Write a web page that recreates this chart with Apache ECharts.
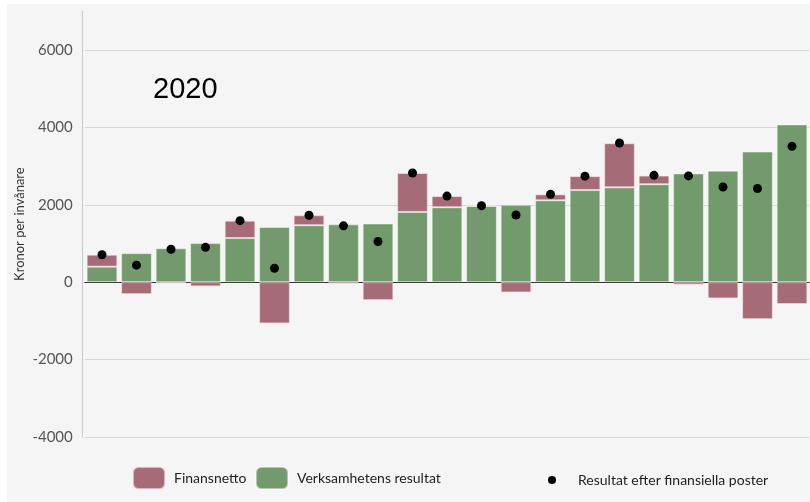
<!DOCTYPE html>
<html>
<head>
<meta charset="utf-8">
<script src="https://cdn.jsdelivr.net/npm/echarts@6/dist/echarts.min.js"></script>
<style>
  html, body { margin: 0; padding: 0; background: #fff; }
  #wrap { position: relative; width: 810px; height: 502px; }
  #chart { position: absolute; left: 7px; top: 4px; width: 803px; height: 498px; background: #f5f5f5; }
</style>
</head>
<body>
<div id="wrap"><div id="chart"></div></div>
<script>
// kommuner, 21 st
var categories = ['1', '2', '3', '4', '5', '6', '7', '8', '9', '10', '11',
  '12', '13', '14', '15', '16', '17', '18', '19', '20', '21'];
var verksamhet = [400, 750, 875, 1010, 1140, 1425, 1470, 1495, 1515, 1815, 1935,
  1970, 2000, 2115, 2380, 2450, 2530, 2810, 2880, 3375, 4075];
var finansnetto = [310, -310, -25, -110, 450, -1065, 260, -40, -465, 1005, 290,
  5, -265, 155, 360, 1140, 225, -65, -420, -955, -565];
var resultat = [710, 440, 850, 900, 1590, 360, 1730, 1455, 1050, 2820, 2225,
  1975, 1735, 2270, 2740, 3595, 2760, 2745, 2460, 2420, 3510];
var yTicks = [-4000, -2000, 0, 2000, 4000, 6000];

var legendFont = {fontFamily: 'Lato', fontSize: 14, color: '#222'};

var option = {
  animation: false,
  title: {
    text: '2020',
    left: 146,
    top: 71,
    padding: 0,
    textStyle: {fontFamily: 'Liberation Sans', fontSize: 29, fontWeight: 'normal', color: '#000'}
  },
  grid: {
    left: 77.75,
    right: 0.75,
    top: 7.25,
    bottom: 65,
    containLabel: false,
    outerBoundsMode: 'none'
  },
  legend: [
    {
      data: ['Finansnetto'], left: 125, top: 462, padding: 0, itemWidth: 32, itemHeight: 22,
      textStyle: Object.assign({padding: [0, 0, 0, 4]}, legendFont)
    }, {
      data: ['Verksamhetens resultat'], left: 248, top: 462, padding: 0, itemWidth: 32, itemHeight: 22,
      textStyle: Object.assign({padding: [0, 0, 0, 4]}, legendFont)
    }, {
      data: ['Resultat efter finansiella poster'], left: 541, top: 469, padding: 0, itemWidth: 8, itemHeight: 8,
      textStyle: Object.assign({padding: [0, 0, 0, 17]}, legendFont)
    }
  ],
  xAxis: {
    type: 'category',
    data: categories,
    axisLine: {onZero: true, lineStyle: {color: '#333', width: 1}},
    axisTick: {show: false},
    axisLabel: {show: false},
    splitLine: {show: false}
  },
  yAxis: {
    type: 'value',
    min: -4000,
    max: 7000,
    interval: 2000,
    offset: 3,
    name: 'Kronor per invånare',
    nameLocation: 'middle',
    nameGap: 55,
    nameMoveOverlap: false,
    nameTextStyle: {fontFamily: 'Lato', fontSize: 13, color: '#333'},
    axisLine: {show: true, lineStyle: {color: '#c8c8c8'}},
    axisTick: {show: false},
    axisLabel: {
      fontFamily: 'Lato', fontSize: 15, color: '#555', margin: 9,
      formatter: function (v) { return yTicks.indexOf(v) >= 0 ? String(v) : ''; }
    },
    splitLine: {show: true, showMaxLine: false, lineStyle: {color: '#d6d6d6'}}
  },
  series: [
    {
      name: 'Verksamhetens resultat',
      type: 'bar',
      stack: 'tot',
      data: verksamhet,
      barCategoryGap: '11%',
      itemStyle: {color: '#739a6c', borderColor: 'rgba(255,255,255,0.45)', borderWidth: 1}
    }, {
      name: 'Finansnetto',
      type: 'bar',
      stack: 'tot',
      data: finansnetto,
      itemStyle: {color: '#a56b76', borderColor: 'rgba(255,230,236,0.6)', borderWidth: 1}
    }, {
      name: 'Resultat efter finansiella poster',
      type: 'scatter',
      data: resultat,
      symbolSize: 9,
      z: 5,
      itemStyle: {color: '#000', opacity: 1}
    }
  ]
};

var chart = echarts.init(document.getElementById('chart'));
chart.setOption(option, true);
</script>
</body>
</html>
